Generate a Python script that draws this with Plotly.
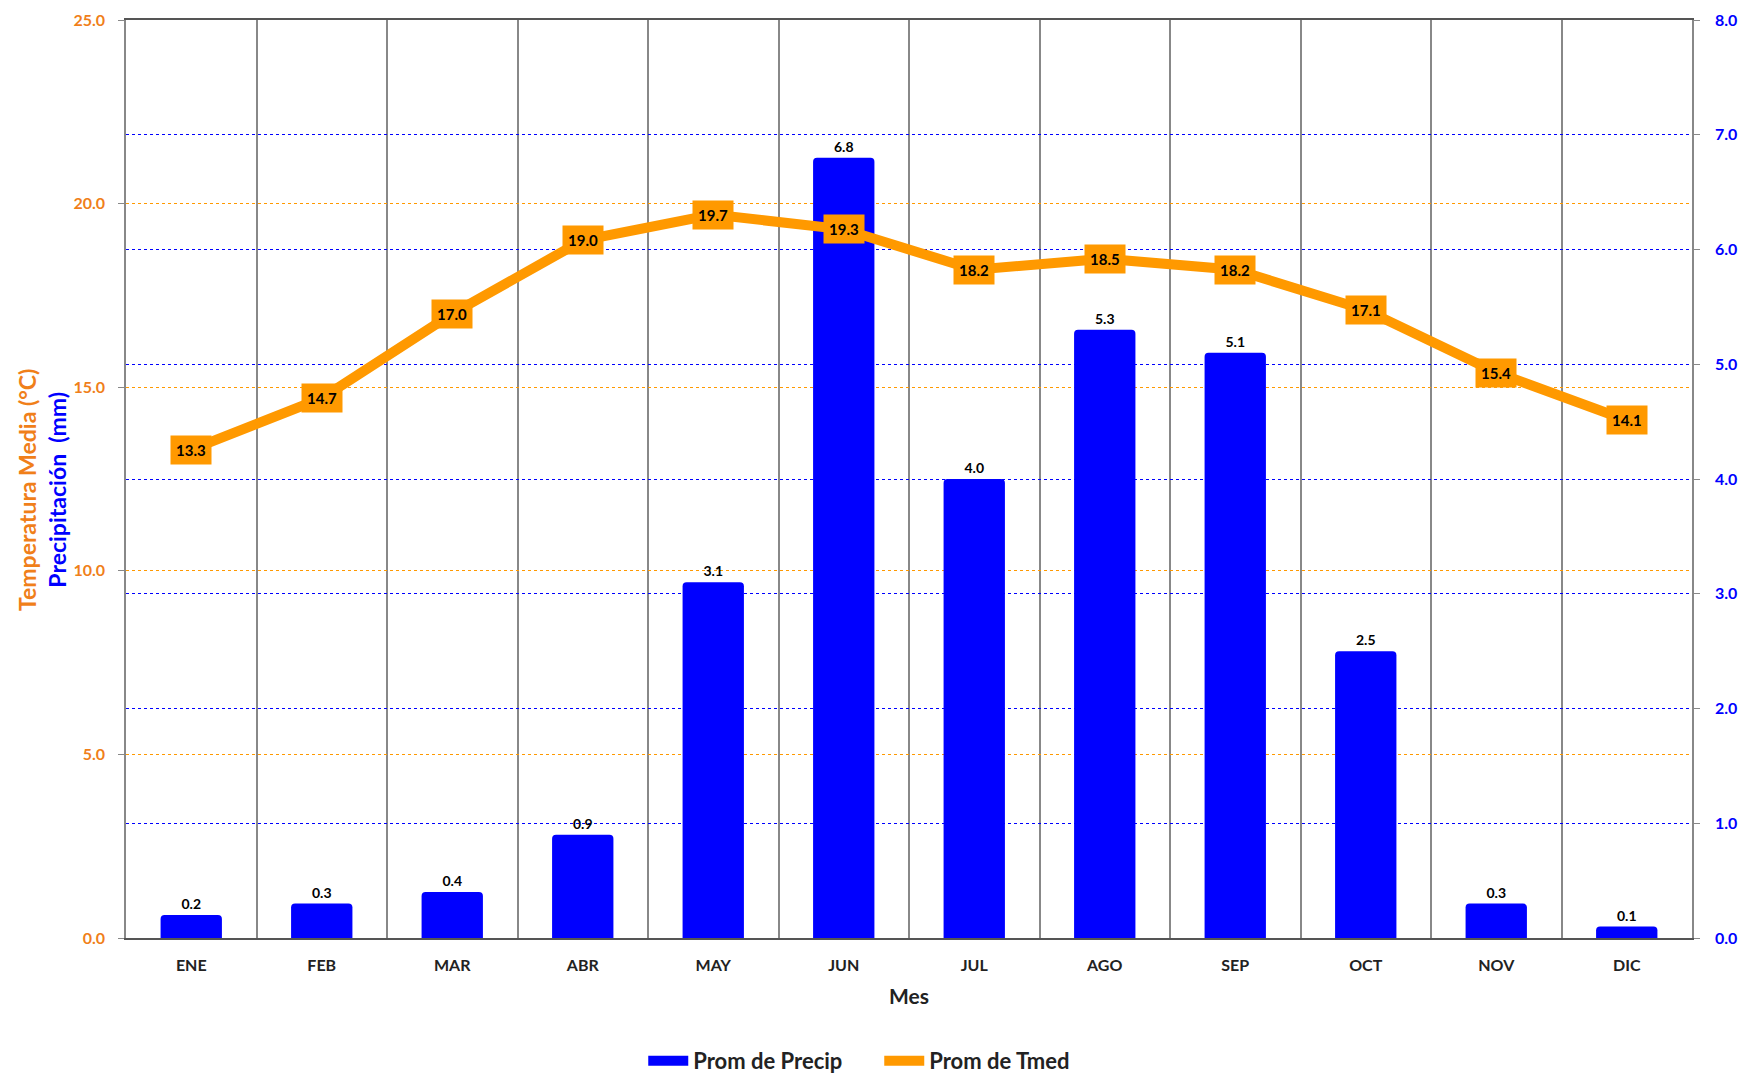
import plotly.graph_objects as go

meses = ["ENE", "FEB", "MAR", "ABR", "MAY", "JUN", "JUL", "AGO", "SEP", "OCT", "NOV", "DIC"]
precip = [0.2, 0.3, 0.4, 0.9, 3.1, 6.8, 4.0, 5.3, 5.1, 2.5, 0.3, 0.1]
tmed = [13.3, 14.7, 17.0, 19.0, 19.7, 19.3, 18.2, 18.5, 18.2, 17.1, 15.4, 14.1]

ORANGE = "#FF9900"
ORANGE_TXT = "#F07F1A"
BLUE = "#0000FF"
FONT = "Lato"

fig = go.Figure()

# barras de precipitación (eje derecho)
fig.add_trace(go.Bar(
    x=meses, y=precip, name="Prom de Precip",
    marker=dict(color=BLUE, line=dict(width=0)),
    width=0.47, showlegend=False,
    text=[f"{v:.1f}" for v in precip], textposition="outside",
    textfont=dict(family=FONT, size=14, color="black", weight="bold"),
    cliponaxis=False, yaxis="y",
))
# entrada de leyenda con muestra ancha, como en el original
fig.add_trace(go.Scatter(
    x=[None], y=[None], name="Prom de Precip", mode="lines",
    line=dict(color=BLUE, width=20), yaxis="y",
))

# línea de temperatura (eje izquierdo)
fig.add_trace(go.Scatter(
    x=meses, y=tmed, name="Prom de Tmed", mode="lines",
    line=dict(color=ORANGE, width=10), yaxis="y2",
))

for m, t in zip(meses, tmed):
    fig.add_annotation(
        x=m, y=t, xref="x", yref="y2", text=f"{t:.1f}", showarrow=False,
        bgcolor=ORANGE, borderpad=5,
        font=dict(family=FONT, size=15, color="black", weight="bold"),
    )

# título del eje vertical en dos colores
fig.add_annotation(
    x=0, y=0.5, xref="paper", yref="paper", xanchor="center", yanchor="middle",
    xshift=-84, yshift=-11, textangle=-90, showarrow=False,
    text=f"<span style='color:{ORANGE_TXT}'>Temperatura Media (°C)</span><br>"
         f"<span style='color:{BLUE}'>Precipitación  (mm)</span>",
    font=dict(family=FONT, size=23, weight="bold"),
)

fig.update_layout(
    width=1750, height=1066,
    margin=dict(l=118, r=66, t=12, b=136, autoexpand=False),
    plot_bgcolor="white", paper_bgcolor="white",
    font=dict(family=FONT),
    barcornerradius=4,
    showlegend=True,
    legend=dict(orientation="h", xref="container", yref="paper",
                x=0.363, xanchor="left", y=-0.134, yanchor="middle",
                entrywidth=181,
                font=dict(family=FONT, size=22, color="#222", weight="bold"),
                itemwidth=40, traceorder="normal"),
    xaxis=dict(
        automargin=False,
        tickson="boundaries", showgrid=True, gridcolor="#888", gridwidth=1.5,
        ticks="", showline=True, mirror=True, linecolor="#555", linewidth=2,
        ticklabelstandoff=12,
        tickfont=dict(family=FONT, size=16, color="#222", weight="bold"),
        title=dict(text="Mes", font=dict(family=FONT, size=21, color="#222", weight="bold"),
                   standoff=16),
    ),
    yaxis=dict(
        automargin=False, ticklabeloverflow="allow",
        side="right", range=[0, 8], dtick=1, tickformat=".1f",
        showgrid=True, gridcolor=BLUE, griddash="dot", gridwidth=1,
        zeroline=False, ticks="outside", ticklen=6, tickcolor="#888",
        showline=True, linecolor="#888", linewidth=1.5, ticklabelstandoff=12,
        tickfont=dict(family=FONT, size=16, color=BLUE, weight="bold"),
    ),
    yaxis2=dict(
        automargin=False, ticklabeloverflow="allow",
        side="left", overlaying="y", range=[0, 25], dtick=5, tickformat=".1f",
        showgrid=True, gridcolor=ORANGE, griddash="dot", gridwidth=1,
        zeroline=False, ticks="outside", ticklen=6, tickcolor="#888",
        showline=True, linecolor="#888", linewidth=1.5, ticklabelstandoff=10,
        tickfont=dict(family=FONT, size=16, color=ORANGE_TXT, weight="bold"),
    ),
)

fig.write_html("out.html")
